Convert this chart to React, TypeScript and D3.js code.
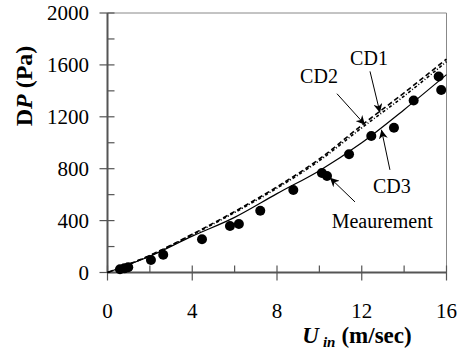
import { useEffect, useRef } from 'react';
import * as d3 from 'd3';

// velocity grid for the model curves (m/sec)
const curveU = [0, 2, 4, 6, 8, 10, 12, 14, 16];
const cd1 = [0, 132, 295, 470, 660, 875, 1135, 1385, 1645];
const cd2 = [0, 130, 290, 462, 650, 862, 1115, 1360, 1625];
const cd3 = [0, 125, 280, 425, 608, 785, 1000, 1255, 1525];

// measured points
const measU = [0.59, 0.8, 0.98, 2.05, 2.63, 4.46, 5.78, 6.2, 7.21, 8.77, 10.12, 10.36, 11.4, 12.45, 13.52, 14.45, 15.63, 15.75];
const measP = [25, 32, 40, 96, 137, 256, 358, 374, 476, 636, 767, 744, 911, 1052, 1116, 1325, 1510, 1407];

const xTicks = [0, 4, 8, 12, 16];
const yTicks = [0, 400, 800, 1200, 1600, 2000];

// annotations: label, text anchor (u,P), arrow tail, arrow tip
const notes = [
  { label: 'CD1', tx: 11.45, tp: 1602, fu: 12.39, fp: 1550, hu: 12.86, hp: 1232 },
  { label: 'CD2', tx: 9.09, tp: 1461, fu: 10.83, fp: 1378, hu: 12.15, hp: 1139 },
  { label: 'CD3', tx: 12.53, tp: 611, fu: 13.33, fp: 791, hu: 12.93, hp: 1100 },
  { label: 'Meaurement', tx: 10.58, tp: 344, fu: 11.68, fp: 544, hu: 10.5, hp: 730 },
];

const serif = 'Liberation Serif, DejaVu Serif, serif';

export default function App() {
  const svgRef = useRef<SVGSVGElement>(null);
  const width = 460;
  const height = 356;

  useEffect(() => {
    if (!svgRef.current) return;
    const svg = d3.select(svgRef.current);
    svg.selectAll('*').remove();

    const x = d3.scaleLinear().domain([0, 16]).range([107.5, 446.5]);
    const y = d3.scaleLinear().domain([0, 2000]).range([272.5, 13]);

    svg.append('defs')
      .append('marker')
      .attr('id', 'arrow')
      .attr('viewBox', '0 0 10 10')
      .attr('refX', 10)
      .attr('refY', 5)
      .attr('markerWidth', 9)
      .attr('markerHeight', 9)
      .attr('markerUnits', 'userSpaceOnUse')
      .attr('orient', 'auto')
      .append('path')
      .attr('d', 'M0,0 L10,5 L0,10 L3,5 Z')
      .attr('fill', '#000');

    // frame (top / right)
    svg.append('path')
      .attr('d', `M${x(0)},${y(2000)} H${x(16)} V${y(0)}`)
      .attr('fill', 'none')
      .attr('stroke', '#888')
      .attr('stroke-width', 1);

    const axisColor = '#555';

    // y axis
    svg.append('line')
      .attr('x1', x(0)).attr('x2', x(0))
      .attr('y1', y(0)).attr('y2', y(2000))
      .attr('stroke', axisColor).attr('stroke-width', 2);
    d3.range(0, 2001, 200).forEach(v => {
      const major = v % 400 === 0;
      svg.append('line')
        .attr('x1', major ? x(0) - 8 : x(0)).attr('x2', x(0) + 7)
        .attr('y1', y(v)).attr('y2', y(v))
        .attr('stroke', axisColor).attr('stroke-width', 1.2);
    });
    svg.append('g')
      .selectAll('text')
      .data(yTicks)
      .join('text')
      .attr('x', 89)
      .attr('y', d => y(d) + 7)
      .attr('text-anchor', 'end')
      .style('font-family', serif)
      .style('font-size', '21px')
      .text(d => d);

    // x axis
    svg.append('line')
      .attr('x1', x(0)).attr('x2', x(16))
      .attr('y1', y(0)).attr('y2', y(0))
      .attr('stroke', axisColor).attr('stroke-width', 2);
    d3.range(0, 17, 2).forEach(v => {
      const major = v % 4 === 0;
      svg.append('line')
        .attr('x1', x(v)).attr('x2', x(v))
        .attr('y1', y(0) - 7).attr('y2', major ? y(0) + 8 : y(0))
        .attr('stroke', axisColor).attr('stroke-width', 1.2);
    });
    svg.append('g')
      .selectAll('text')
      .data(xTicks)
      .join('text')
      .attr('x', d => x(d))
      .attr('y', 318)
      .attr('text-anchor', 'middle')
      .style('font-family', serif)
      .style('font-size', '21px')
      .text(d => d);

    // model curves
    const line = d3.line<number>()
      .x((_, i) => x(curveU[i]))
      .y(d => y(d))
      .curve(d3.curveMonotoneX);

    const series = [
      { values: cd1, dash: '5,3', w: 1.6 },
      { values: cd2, dash: '3,2,1,2', w: 1.6 },
      { values: cd3, dash: null, w: 1.2 },
    ];
    series.forEach(s => {
      svg.append('path')
        .datum(s.values)
        .attr('fill', 'none')
        .attr('stroke', '#000')
        .attr('stroke-width', s.w)
        .attr('stroke-dasharray', s.dash)
        .attr('d', line);
    });

    // measurements
    svg.append('g')
      .selectAll('circle')
      .data(measU)
      .join('circle')
      .attr('cx', d => x(d))
      .attr('cy', (_, i) => y(measP[i]))
      .attr('r', 5)
      .attr('fill', '#000');

    // annotations
    notes.forEach(n => {
      svg.append('line')
        .attr('x1', x(n.fu)).attr('y1', y(n.fp))
        .attr('x2', x(n.hu)).attr('y2', y(n.hp))
        .attr('stroke', '#000')
        .attr('stroke-width', 1)
        .attr('marker-end', 'url(#arrow)');
      svg.append('text')
        .attr('x', x(n.tx))
        .attr('y', y(n.tp))
        .style('font-family', serif)
        .style('font-size', '20px')
        .text(n.label);
    });

    // axis titles
    const xt = svg.append('text')
      .attr('x', 357)
      .attr('y', 343)
      .attr('text-anchor', 'middle')
      .style('font-family', serif)
      .style('font-weight', 'bold')
      .style('font-size', '23px');
    xt.append('tspan').style('font-style', 'italic').text('U');
    xt.append('tspan').style('font-style', 'italic').style('font-size', '15px').attr('dx', 4).attr('dy', 4).text('in');
    xt.append('tspan').attr('dx', 6).attr('dy', -4).text('(m/sec)');

    const yt = svg.append('text')
      .attr('transform', 'translate(32,86) rotate(-90)')
      .attr('text-anchor', 'middle')
      .style('font-family', serif)
      .style('font-weight', 'bold')
      .style('font-size', '24px');
    yt.append('tspan').text('D');
    yt.append('tspan').style('font-style', 'italic').text('P');
    yt.append('tspan').text(' (Pa)');
  }, []);

  return (
    <svg
      ref={svgRef}
      width={width}
      height={height}
      style={{ position: 'absolute', left: 0, top: 0, background: '#fff', fontFamily: serif }}
    />
  );
}
